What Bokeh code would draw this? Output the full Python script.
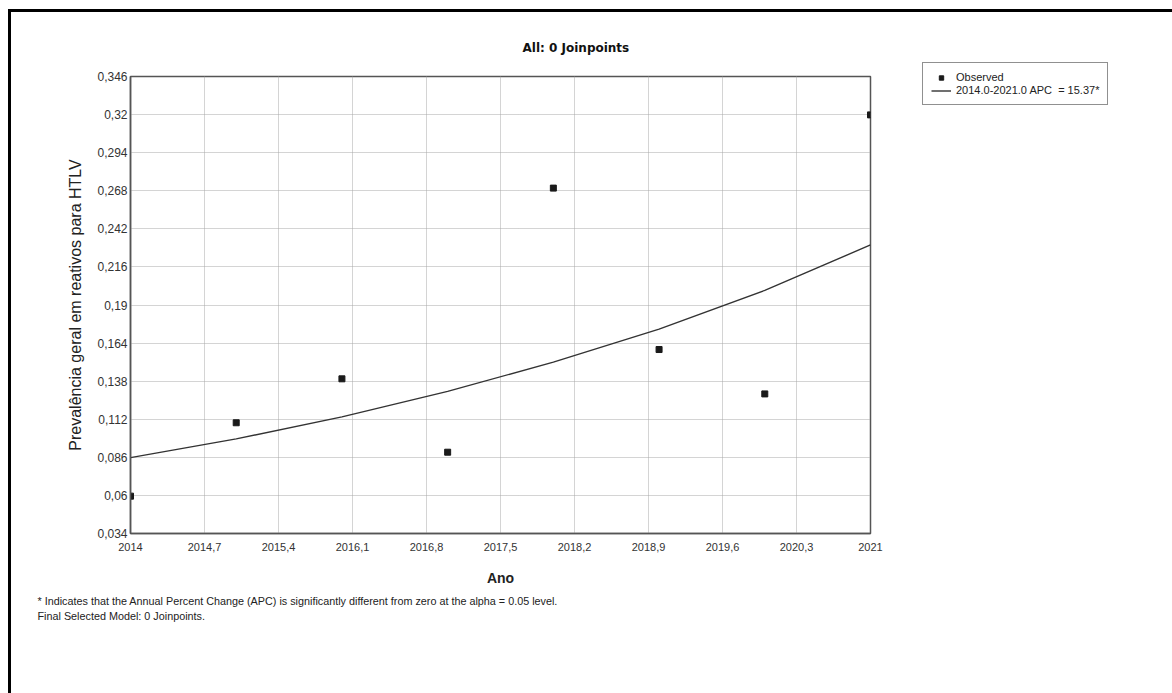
from bokeh.plotting import figure
from bokeh.models import FixedTicker, Legend, LegendItem, Title
from bokeh.embed import file_html
from bokeh.resources import INLINE

years = [2014, 2015, 2016, 2017, 2018, 2019, 2020, 2021]
observed = [0.0595, 0.1096, 0.1396, 0.0895, 0.2698, 0.1596, 0.1293, 0.3198]
modeled = [0.0858, 0.0986, 0.1136, 0.1310, 0.1510, 0.1735, 0.2000, 0.2310]

x_ticks = [2014, 2014.7, 2015.4, 2016.1, 2016.8, 2017.5, 2018.2, 2018.9, 2019.6, 2020.3, 2021]
x_labels = ["2014", "2014,7", "2015,4", "2016,1", "2016,8", "2017,5", "2018,2", "2018,9", "2019,6", "2020,3", "2021"]
y_ticks = [0.034, 0.06, 0.086, 0.112, 0.138, 0.164, 0.19, 0.216, 0.242, 0.268, 0.294, 0.32, 0.346]
y_labels = ["0,034", "0,06", "0,086", "0,112", "0,138", "0,164", "0,19", "0,216", "0,242", "0,268", "0,294", "0,32", "0,346"]

FONT = "Liberation Sans"

p = figure(frame_width=740, frame_height=457,
           min_border_left=119, min_border_top=64, min_border_right=302, min_border_bottom=160,
           x_range=(2014, 2021), y_range=(0.034, 0.346),
           output_backend="svg", toolbar_location=None)
p.styles = {"border-top": "3px solid black", "border-left": "3px solid black",
            "margin-top": "9px", "margin-left": "8px"}
p.background_fill_color = "white"
p.border_fill_color = "white"
p.outline_line_color = "#555555"
p.outline_line_width = 1.5

p.title.text = "All: 0 Joinpoints"
p.title.text_font = "DejaVu Sans"
p.title.text_font_style = "bold"
p.title.text_font_size = "12px"
p.title.text_color = "#111111"
p.title.align = "left"
p.title.offset = 392
p.title.standoff = 40
p.title.vertical_align = "top"

p.xaxis.ticker = FixedTicker(ticks=x_ticks)
p.yaxis.ticker = FixedTicker(ticks=y_ticks)
p.xaxis.major_label_overrides = {t: l for t, l in zip(x_ticks, x_labels)}
p.yaxis.major_label_overrides = {t: l for t, l in zip(y_ticks, y_labels)}
for ax in (p.xaxis, p.yaxis):
    ax.major_tick_out = 0
    ax.major_tick_in = 0
    ax.minor_tick_out = 0
    ax.minor_tick_in = 0
    ax.axis_line_color = "#555555"
    ax.axis_line_width = 1.5
    ax.major_label_text_font = FONT
    ax.major_label_text_color = "#333333"
p.xaxis.major_label_text_font_size = "11px"
p.yaxis.major_label_text_font_size = "12px"
p.xaxis.major_label_standoff = 9
p.yaxis.major_label_standoff = 3

p.xaxis.axis_label = "Ano"
p.xaxis.axis_label_text_font = FONT
p.xaxis.axis_label_text_font_style = "bold"
p.xaxis.axis_label_text_font_size = "14px"
p.xaxis.axis_label_text_color = "#222222"
p.xaxis.axis_label_standoff = 16

p.yaxis.axis_label = "Prevalência geral em reativos para HTLV"
p.yaxis.axis_label_text_font = FONT
p.yaxis.axis_label_text_font_style = "normal"
p.yaxis.axis_label_text_font_size = "16px"
p.yaxis.axis_label_text_color = "#222222"
p.yaxis.axis_label_standoff = 10

for g in (p.xgrid, p.ygrid):
    g.grid_line_color = "#a8a8a8"
    g.grid_line_dash = "1 1"
    g.grid_line_width = 1

line_r = p.line(years, modeled, line_color="#333333", line_width=1.4)
pts_r = p.scatter(years, observed, marker="square", size=6, fill_color="#1a1a1a", line_color="#1a1a1a")

legend = Legend(items=[LegendItem(label="Observed", renderers=[pts_r]),
                       LegendItem(label="2014.0-2021.0 APC  = 15.37*", renderers=[line_r])],
                location=(52, 428))
legend.border_line_color = "#222222"
legend.border_line_width = 1
legend.background_fill_color = "white"
legend.label_text_font = FONT
legend.label_text_font_size = "11px"
legend.label_text_color = "#222222"
legend.label_height = 11
legend.glyph_height = 11
legend.glyph_width = 20
legend.label_standoff = 5
legend.spacing = 1
legend.padding = 8
legend.margin = 0
p.add_layout(legend, "right")

foot1 = Title(text="* Indicates that the Annual Percent Change (APC) is significantly different from zero at the alpha = 0.05 level.",
              text_font=FONT, text_font_style="normal", text_font_size="10.8px", text_color="#222222",
              align="left", offset=-93, standoff=9)
foot2 = Title(text="Final Selected Model: 0 Joinpoints.",
              text_font=FONT, text_font_style="normal", text_font_size="10.8px", text_color="#222222",
              align="left", offset=-93, standoff=-8)
p.add_layout(foot1, "below")
p.add_layout(foot2, "below")

open("out.html", "w").write(file_html(p, INLINE))
